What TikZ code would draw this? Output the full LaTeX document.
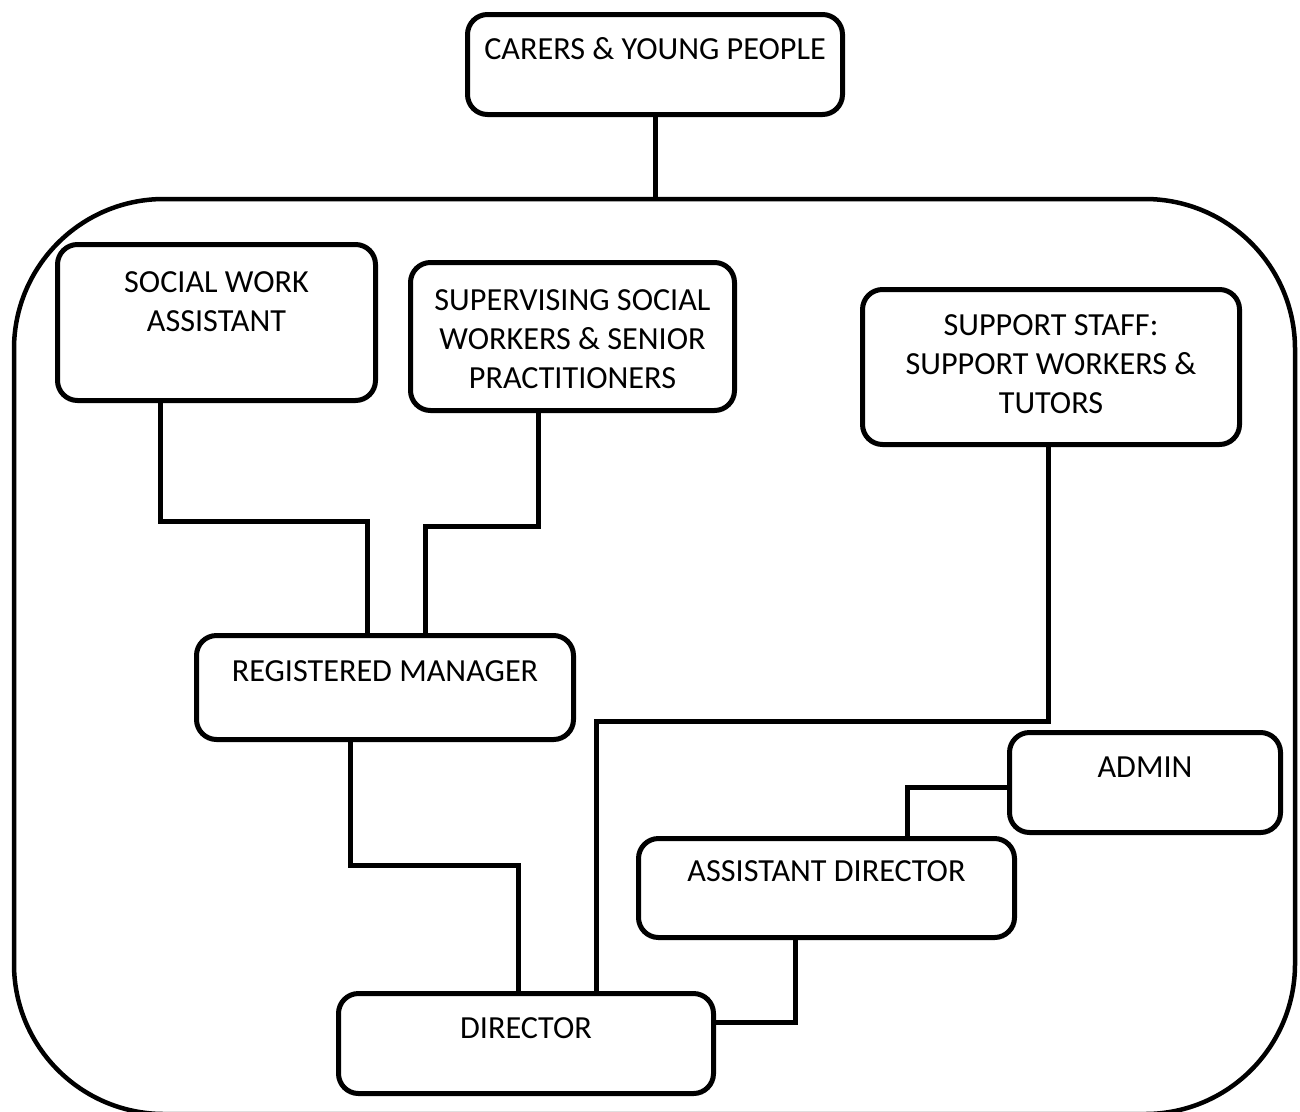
\documentclass[tikz,border=0pt]{standalone}
\usepackage{fontspec}
\setmainfont{Carlito}
\begin{document}
\begin{tikzpicture}[x=1pt,y=-1pt,
  box/.style={draw, line width=5pt, rounded corners=20pt, fill=white, inner sep=0pt},
  outerbox/.style={draw, line width=4.5pt, rounded corners=150pt, inner sep=0pt},
  lbl/.style={anchor=north, inner sep=0pt, align=center, font=\fontsize{32.2}{39}\selectfont},
  link/.style={draw, line width=5pt}]
\useasboundingbox (0,0) rectangle (1300,1111);
\node[outerbox, minimum width=1281pt, minimum height=915pt] (outer) at (654.5,656.5) {};
\node[box, minimum width=375pt, minimum height=100pt] (carers) at (655,64.5) {};
\node[box, minimum width=318pt, minimum height=156pt] (swa) at (216.5,322.5) {};
\node[box, minimum width=324pt, minimum height=148pt] (sup) at (572.5,336.5) {};
\node[box, minimum width=377pt, minimum height=155pt] (sst) at (1051,367) {};
\node[box, minimum width=377pt, minimum height=104pt] (rm) at (385,687.5) {};
\node[box, minimum width=271pt, minimum height=100pt] (admin) at (1145,782.5) {};
\node[box, minimum width=376pt, minimum height=99pt] (ad) at (826.5,888) {};
\node[box, minimum width=375pt, minimum height=100pt] (dir) at (526,1043.5) {};
\node[lbl] (carersT) at (655,37.5) {CARERS \& YOUNG PEOPLE};
\node[lbl] (swaT) at (216.5,271.5) {SOCIAL WORK\\ASSISTANT};
\node[lbl] (supT) at (572.5,289.5) {SUPERVISING SOCIAL\\WORKERS \& SENIOR\\PRACTITIONERS};
\node[lbl] (sstT) at (1051,314.5) {SUPPORT STAFF:\\SUPPORT WORKERS \&\\TUTORS};
\node[lbl] (rmT) at (385,660.5) {REGISTERED MANAGER};
\node[lbl] (adminT) at (1145,756.5) {ADMIN};
\node[lbl] (adT) at (826.5,860.5) {ASSISTANT DIRECTOR};
\node[lbl] (dirT) at (526,1017.5) {DIRECTOR};
\draw[link] (carers.south) -- (carers.south |- outer.north);
\draw[link] ([xshift=-56.5pt]swa.south) -- ++(0,118.5) -| ([xshift=-18pt]rm.north);
\draw[link] ([xshift=-34.5pt]sup.south) -- ++(0,113.5) -| ([xshift=40pt]rm.north);
\draw[link] ([xshift=-3pt]sst.south) -- ++(0,274.5) -| ([xshift=70pt]dir.north);
\draw[link] ([xshift=-35pt]rm.south) -- ++(0,123.5) -| ([xshift=-8pt]dir.north);
\draw[link] ([yshift=-4.5pt]admin.west) -| ([xshift=80.5pt]ad.north);
\draw[link] ([xshift=-31.5pt]ad.south) |- ([yshift=21.5pt]dir.east);
\end{tikzpicture}
\end{document}
